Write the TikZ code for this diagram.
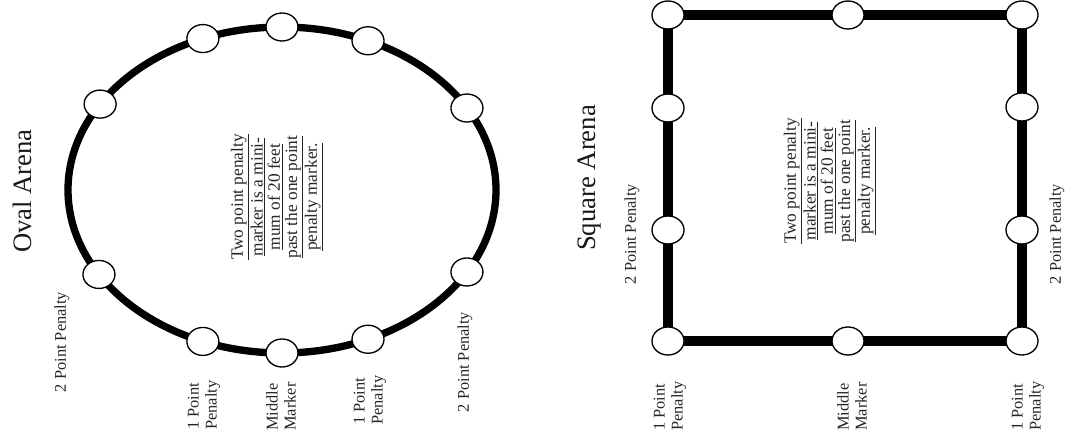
\documentclass[tikz,border=0pt]{standalone}
\usepackage{fontspec}
\setmainfont{Liberation Serif}
\usetikzlibrary{shapes.geometric,backgrounds,calc}
\begin{document}
\begin{tikzpicture}[x=0.75pt,y=-0.75pt,
  marker/.style={draw=black, line width=1pt, fill=white, ellipse, minimum width=24pt, minimum height=21pt, inner sep=0pt},
  ovaltrack/.style={line width=5.5pt, draw=black},
  sqtrack/.style={line width=7.5pt, draw=black},
  title/.style={rotate=90, font=\fontsize{20}{24}\selectfont, text=black!90, inner sep=0pt},
  lbl/.style={rotate=90, font=\fontsize{12.3}{13.5}\selectfont, text=black!85, inner sep=0pt},
  lbltwo/.style={lbl, align=left, anchor=west},
  note/.style={rotate=90, font=\fontsize{13}{12.9}\selectfont, align=center, text=black!85, inner sep=0pt}
]
\useasboundingbox (0,0) rectangle (1081,434);

% ---------- Oval arena ----------
\coordinate (oc) at (282,190);
\node[marker] (o1) at ($(oc)+(-90:214 and 163)$) {};
\node[marker] (o2) at ($(oc)+(-66.3:214 and 163)$) {};
\node[marker] (o3) at ($(oc)+(-30.2:214 and 163)$) {};
\node[marker] (o4) at ($(oc)+(30.2:214 and 163)$) {};
\node[marker] (o5) at ($(oc)+(66.3:214 and 163)$) {};
\node[marker] (o6) at ($(oc)+(90:214 and 163)$) {};
\node[marker] (o7) at ($(oc)+(111.7:214 and 163)$) {};
\node[marker] (o8) at ($(oc)+(148.8:214 and 163)$) {};
\node[marker] (o9) at ($(oc)+(-148.2:214 and 163)$) {};
\node[marker] (o10) at ($(oc)+(-111.7:214 and 163)$) {};
\begin{scope}[on background layer]
  \draw[ovaltrack] (oc) ellipse [x radius=214, y radius=163];
\end{scope}

\node[title] (otitle) at (22,191) {Oval Arena};
\node[lbl] (o2pl) at (62,342) {2 Point Penalty};
\node[lbl] (o2pr) at (465,362) {2 Point Penalty};
\node[lbltwo] (o1pl) at (204,430) {1 Point\\Penalty};
\node[lbltwo] (omid) at (281,431) {Middle\\Marker};
\node[lbltwo] (o1pr) at (370,425) {1 Point\\Penalty};
\node[note] (onote) at (277,197) {\underline{Two point penalty}\\\underline{marker is a mini-}\\\underline{mum of 20 feet}\\\underline{past the one point}\\\underline{penalty marker.}};

% ---------- Square arena ----------
\node[marker] (stl) at (668,15) {};
\node[marker] (stm) at (848,15) {};
\node[marker] (str) at (1022,15) {};
\node[marker] (sr1) at (1022,107) {};
\node[marker] (sr2) at (1022,230) {};
\node[marker] (sbr) at (1022,341) {};
\node[marker] (sbm) at (848,341) {};
\node[marker] (sbl) at (668,341) {};
\node[marker] (sl2) at (668,230) {};
\node[marker] (sl1) at (668,108) {};
\begin{scope}[on background layer]
  \draw[sqtrack] (stl.center) -- (stm.center);
  \draw[sqtrack] (stm.center) -- (str.center);
  \draw[sqtrack] (str.center) -- (sr1.center);
  \draw[sqtrack] (sr1.center) -- (sr2.center);
  \draw[sqtrack] (sr2.center) -- (sbr.center);
  \draw[sqtrack] (sbr.center) -- (sbm.center);
  \draw[sqtrack] (sbm.center) -- (sbl.center);
  \draw[sqtrack] (sbl.center) -- (sl2.center);
  \draw[sqtrack] (sl2.center) -- (sl1.center);
  \draw[sqtrack] (sl1.center) -- (stl.center);
\end{scope}

\node[title] (stitle) at (590,178) {Square Arena};
\node[lbl] (s2pl) at (632,234) {2 Point Penalty};
\node[lbl] (s2pr) at (1057,234) {2 Point Penalty};
\node[lbltwo] (s1pl) at (670,431) {1 Point\\Penalty};
\node[lbltwo] (smid) at (852,431) {Middle\\Marker};
\node[lbltwo] (s1pr) at (1028,431) {1 Point\\Penalty};
\node[note] (snote) at (830,181) {\underline{Two point penalty}\\\underline{marker is a mini-}\\\underline{mum of 20 feet}\\\underline{past the one point}\\\underline{penalty marker.}};
\end{tikzpicture}
\end{document}
